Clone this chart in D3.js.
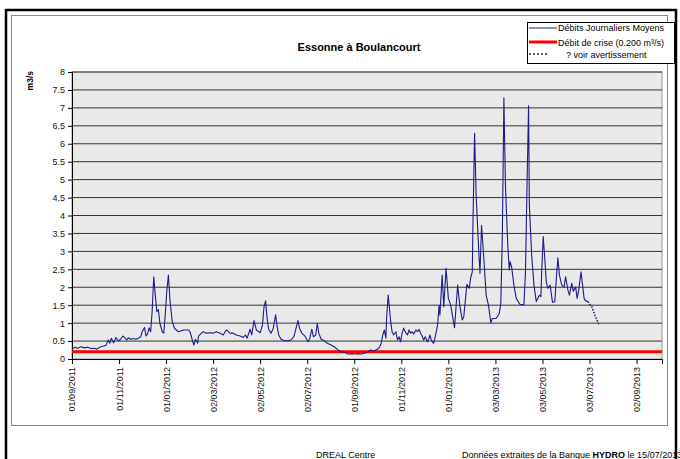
<!DOCTYPE html>
<html>
<head>
<meta charset="utf-8">
<script src="https://cdn.jsdelivr.net/npm/d3@7"></script>
<style>
  body { margin: 0; background: #fff; }
  text { font-family: "Liberation Sans", Arial, sans-serif; }
</style>
</head>
<body>
<div id="chart"></div>
<script>
// Daily mean flow (m3/s)
const flowDates = [
  "2011-09-01","2011-09-05","2011-09-08","2011-09-13","2011-09-17","2011-09-21","2011-09-26","2011-09-30",
  "2011-10-03","2011-10-07","2011-10-12","2011-10-15","2011-10-18","2011-10-20","2011-10-22","2011-10-25",
  "2011-10-28","2011-10-31","2011-11-03","2011-11-06","2011-11-09","2011-11-11","2011-11-13","2011-11-16",
  "2011-11-19","2011-11-23","2011-11-26","2011-11-29","2011-12-01","2011-12-04","2011-12-06","2011-12-08",
  "2011-12-10","2011-12-12","2011-12-14","2011-12-16","2011-12-18","2011-12-20","2011-12-22","2011-12-24",
  "2011-12-27","2011-12-29","2011-12-31","2012-01-02","2012-01-04","2012-01-06","2012-01-09","2012-01-12",
  "2012-01-17","2012-01-21","2012-01-25","2012-01-30","2012-02-01","2012-02-04","2012-02-06","2012-02-08",
  "2012-02-11","2012-02-12","2012-02-16","2012-02-18","2012-02-22","2012-02-27","2012-03-02","2012-03-06",
  "2012-03-11","2012-03-15","2012-03-19","2012-03-24","2012-03-28","2012-04-01","2012-04-06","2012-04-10",
  "2012-04-13","2012-04-15","2012-04-19","2012-04-21","2012-04-24","2012-04-27","2012-05-02","2012-05-05",
  "2012-05-07","2012-05-09","2012-05-11","2012-05-13","2012-05-16","2012-05-19","2012-05-22","2012-05-24",
  "2012-05-26","2012-05-29","2012-06-03","2012-06-07","2012-06-11","2012-06-15","2012-06-18","2012-06-20",
  "2012-06-22","2012-06-25","2012-06-29","2012-07-03","2012-07-05","2012-07-08","2012-07-10","2012-07-13",
  "2012-07-15","2012-07-17","2012-07-20","2012-07-24","2012-07-27","2012-07-30","2012-08-02","2012-08-07",
  "2012-08-11","2012-08-15","2012-08-20","2012-08-24","2012-08-28","2012-09-02","2012-09-06","2012-09-10",
  "2012-09-14","2012-09-18","2012-09-22","2012-09-27","2012-10-01","2012-10-04","2012-10-06","2012-10-08",
  "2012-10-10","2012-10-12","2012-10-13","2012-10-15","2012-10-18","2012-10-20","2012-10-22","2012-10-25",
  "2012-10-27","2012-10-29","2012-10-31","2012-11-02","2012-11-04","2012-11-07","2012-11-09","2012-11-11",
  "2012-11-13","2012-11-15","2012-11-17","2012-11-20","2012-11-22","2012-11-24","2012-11-26","2012-11-28",
  "2012-11-30","2012-12-02","2012-12-05","2012-12-07","2012-12-08","2012-12-10","2012-12-12","2012-12-13",
  "2012-12-15","2012-12-18","2012-12-20","2012-12-21","2012-12-24","2012-12-26","2012-12-29","2013-01-01",
  "2013-01-04","2013-01-09","2013-01-13","2013-01-16","2013-01-19","2013-01-21","2013-01-25","2013-01-28",
  "2013-01-30","2013-02-01","2013-02-02","2013-02-04","2013-02-06","2013-02-09","2013-02-11","2013-02-13",
  "2013-02-16","2013-02-19","2013-02-22","2013-02-25","2013-02-27","2013-03-04","2013-03-08","2013-03-10",
  "2013-03-12","2013-03-14","2013-03-16","2013-03-19","2013-03-21","2013-03-22","2013-03-24","2013-03-27",
  "2013-03-30","2013-04-04","2013-04-09","2013-04-11","2013-04-13","2013-04-15","2013-04-16","2013-04-19",
  "2013-04-22","2013-04-25","2013-04-29","2013-05-01","2013-05-02","2013-05-04","2013-05-06","2013-05-08",
  "2013-05-10","2013-05-13","2013-05-16","2013-05-19","2013-05-21","2013-05-23","2013-05-25","2013-05-28",
  "2013-05-31","2013-06-02","2013-06-05","2013-06-07","2013-06-10","2013-06-12","2013-06-15","2013-06-17",
  "2013-06-19","2013-06-22","2013-06-24","2013-06-26","2013-06-28","2013-07-01"
];
const flowValues = [
  0.27,0.33,0.30,0.34,0.31,0.33,0.29,0.30,
  0.27,0.33,0.36,0.38,0.53,0.44,0.58,0.45,
  0.60,0.51,0.55,0.64,0.58,0.53,0.59,0.55,
  0.57,0.55,0.58,0.62,0.76,0.88,0.64,0.70,
  0.87,0.76,1.36,2.29,1.78,1.32,1.38,0.99,
  0.76,0.72,1.27,1.92,2.34,1.64,1.04,0.85,
  0.76,0.79,0.81,0.81,0.76,0.53,0.39,0.55,
  0.44,0.64,0.72,0.76,0.72,0.73,0.72,0.76,
  0.72,0.67,0.81,0.72,0.72,0.67,0.64,0.60,
  0.67,0.58,0.83,0.67,1.07,0.81,0.73,0.95,
  1.46,1.62,1.13,0.83,0.72,0.86,1.23,0.90,
  0.67,0.55,0.51,0.51,0.53,0.64,0.90,1.07,
  0.86,0.72,0.64,0.48,0.55,0.83,0.62,0.67,
  0.99,0.72,0.55,0.51,0.45,0.42,0.39,0.33,
  0.25,0.20,0.18,0.14,0.15,0.14,0.15,0.14,
  0.16,0.19,0.25,0.23,0.27,0.34,0.44,0.67,
  0.81,0.58,1.18,1.78,1.09,0.76,0.67,0.76,
  0.53,0.62,0.48,0.72,0.86,0.72,0.67,0.81,
  0.72,0.76,0.70,0.81,0.76,0.83,0.72,0.64,
  0.53,0.62,0.48,0.58,0.67,0.53,0.45,0.44,
  0.62,0.95,1.50,1.22,2.34,1.46,2.53,1.69,
  1.50,0.87,2.06,1.46,1.09,1.18,2.08,1.97,
  2.27,2.43,3.92,6.29,4.57,3.18,2.39,3.73,
  2.80,1.78,1.50,1.01,1.13,1.13,1.27,1.55,
  3.45,7.28,4.85,3.18,2.48,2.71,2.57,2.06,
  1.69,1.52,1.52,2.43,4.85,7.06,4.29,2.90,
  2.06,1.60,1.78,1.74,2.43,3.41,2.80,2.15,
  1.97,2.06,1.58,1.60,2.25,2.82,2.34,2.06,
  2.01,2.29,1.92,1.78,2.11,1.89,2.01,1.69,
  1.92,2.43,2.06,1.69,1.62,1.60
];

// provisional values ("? voir avertissement")
const warnDates = ["2013-07-01","2013-07-04","2013-07-06","2013-07-10","2013-07-15"];
const warnValues = [1.60, 1.50, 1.46, 1.22, 0.97];

// crisis flow threshold
const crisisFlow = 0.2;

// x tick labels (every 61 days, as Excel draws them)
const tickDates = [
  "2011-09-01","2011-11-01","2012-01-01","2012-03-02","2012-05-02","2012-07-02","2012-09-01",
  "2012-11-01","2013-01-01","2013-03-03","2013-05-03","2013-07-03","2013-09-02"
];
const yTicks = [0,0.5,1,1.5,2,2.5,3,3.5,4,4.5,5,5.5,6,6.5,7,7.5,8];

const legendLabels = ["Débits Journaliers Moyens", "Débit de crise (0.200 m³/s)", "? voir avertissement"];

const width = 680;
const height = 459;
const margin = { top: 72, right: 18, bottom: 100, left: 72 };

const parse = d3.utcParse("%Y-%m-%d");
const fmt = d3.utcFormat("%d/%m/%Y");

const flowData = flowDates.map((d, i) => ({ date: parse(d), value: flowValues[i] }));
const warnData = warnDates.map((d, i) => ({ date: parse(d), value: warnValues[i] }));

const svg = d3.select("#chart")
    .append("svg")
    .attr("width", width)
    .attr("height", height);

// outer frames
svg.append("rect")
    .attr("x", 6).attr("y", 10)
    .attr("width", 670).attr("height", 470)
    .attr("fill", "none")
    .attr("stroke", "#000")
    .attr("stroke-width", 2.5);

svg.append("rect")
    .attr("x", 11.5).attr("y", 15.5)
    .attr("width", 656).attr("height", 410)
    .attr("fill", "#fff")
    .attr("stroke", "#888")
    .attr("stroke-width", 1);

const x = d3.scaleUtc()
    .domain([parse("2011-09-01"), parse("2013-10-05")])
    .range([margin.left, width - margin.right]);

const y = d3.scaleLinear()
    .domain([0, 8])
    .range([height - margin.bottom, margin.top]);

// plot background
svg.append("rect")
    .attr("x", margin.left)
    .attr("y", margin.top)
    .attr("width", width - margin.right - margin.left)
    .attr("height", height - margin.bottom - margin.top)
    .attr("fill", "#e9e9e9")
    .attr("stroke", "#9a9a9a");

// gridlines
svg.append("g")
    .selectAll("line")
    .data(yTicks.filter(d => d > 0))
    .enter()
    .append("line")
    .attr("x1", margin.left)
    .attr("x2", width - margin.right)
    .attr("y1", d => y(d))
    .attr("y2", d => y(d))
    .attr("stroke", "#333")
    .attr("stroke-width", 1);

// y axis
const yAxis = svg.append("g")
    .attr("transform", `translate(${margin.left}, 0)`)
    .call(d3.axisLeft(y).tickValues(yTicks).tickSize(4).tickFormat(d3.format("")));
yAxis.select(".domain").attr("stroke", "#000");
yAxis.selectAll("text")
    .attr("font-size", 9)
    .attr("font-family", "Liberation Sans, Arial, sans-serif")
    .attr("fill", "#111");

// x axis
const xAxis = svg.append("g")
    .attr("transform", `translate(0, ${height - margin.bottom})`)
    .call(d3.axisBottom(x).tickValues(tickDates.map(parse)).tickSize(5).tickFormat(fmt));
xAxis.select(".domain").attr("stroke", "#000");
xAxis.selectAll("text")
    .attr("font-size", 9)
    .attr("font-family", "Liberation Sans, Arial, sans-serif")
    .attr("fill", "#111")
    .attr("transform", "rotate(-90)")
    .attr("text-anchor", "end")
    .attr("x", -8)
    .attr("y", 0)
    .attr("dy", "0.33em");

// crisis line
svg.append("line")
    .attr("x1", margin.left)
    .attr("x2", width - margin.right)
    .attr("y1", y(crisisFlow))
    .attr("y2", y(crisisFlow))
    .attr("stroke", "#ff0000")
    .attr("stroke-width", 3);

const line = d3.line()
    .x(d => x(d.date))
    .y(d => y(d.value));

svg.append("path")
    .datum(flowData)
    .attr("d", line)
    .attr("fill", "none")
    .attr("stroke", "#1c1c8a")
    .attr("stroke-width", 1.1)
    .attr("stroke-linejoin", "round");

svg.append("path")
    .datum(warnData)
    .attr("d", line)
    .attr("fill", "none")
    .attr("stroke", "#1c1c8a")
    .attr("stroke-width", 1.6)
    .attr("stroke-dasharray", "1.5,1.5");

// title
svg.append("text")
    .attr("x", 359)
    .attr("y", 51)
    .attr("text-anchor", "middle")
    .attr("font-size", 11)
    .attr("font-weight", "bold")
    .text("Essonne à Boulancourt");

// y axis label
svg.append("text")
    .attr("transform", "rotate(-90)")
    .attr("x", -71)
    .attr("y", 33)
    .attr("text-anchor", "end")
    .attr("font-size", 8.5)
    .attr("font-weight", "bold")
    .text("m3/s");

// legend
const legend = svg.append("g").attr("transform", "translate(527, 22)");
legend.append("rect")
    .attr("x", 0.5).attr("y", 0.5)
    .attr("width", 147).attr("height", 41)
    .attr("fill", "#fff")
    .attr("stroke", "#000");

legend.append("line")
    .attr("x1", 2).attr("x2", 30).attr("y1", 6).attr("y2", 6)
    .attr("stroke", "#1c1c8a").attr("stroke-width", 1);
legend.append("line")
    .attr("x1", 2).attr("x2", 30).attr("y1", 20).attr("y2", 20)
    .attr("stroke", "#ff0000").attr("stroke-width", 3);
legend.append("line")
    .attr("x1", 2).attr("x2", 22).attr("y1", 32).attr("y2", 32)
    .attr("stroke", "#1c1c8a").attr("stroke-width", 1.6)
    .attr("stroke-dasharray", "2,2");

legendLabels.forEach((label, i) => {
    legend.append("text")
        .attr("x", i === 2 ? 39 : 31)
        .attr("y", [9, 23.5, 35.5][i])
        .attr("font-size", 9)
        .text(label);
});

// footer
svg.append("text")
    .attr("x", 316)
    .attr("y", 458)
    .attr("font-size", 9)
    .text("DREAL Centre");

const note = svg.append("text")
    .attr("x", 462)
    .attr("y", 458)
    .attr("font-size", 9);
note.append("tspan").text("Données extraites de la Banque ");
note.append("tspan").attr("font-weight", "bold").text("HYDRO");
note.append("tspan").text(" le 15/07/2013");
</script>
</body>
</html>
